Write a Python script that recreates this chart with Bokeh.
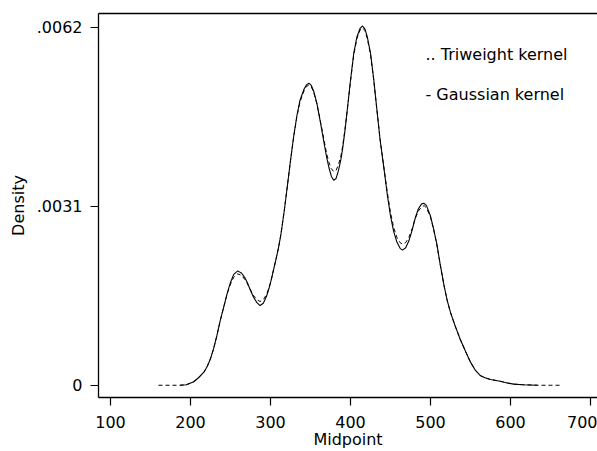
from bokeh.plotting import figure
from bokeh.models import LinearAxis, FixedTicker, Label, Range1d
from bokeh.embed import file_html
from bokeh.resources import INLINE

# ---- data ----
gauss_x = [187, 195, 204, 210, 217, 221, 225, 229, 233, 237, 242, 246, 250, 254, 259,
           264, 268, 271, 275, 279, 283, 287, 291, 295, 298, 301, 304, 307, 310, 313,
           317, 321, 325, 329, 333, 337, 342, 345, 348, 351, 354, 358, 362, 367, 370,
           373, 376, 379, 382, 385, 388, 390, 393, 396, 400, 404, 408, 412, 415, 418,
           421, 425, 429, 433, 437, 442, 446, 450, 454, 458, 462, 465, 469, 473, 477,
           481, 485, 489, 492, 495, 500, 504, 508, 512, 517, 521, 525, 531, 537, 544,
           550, 556, 562, 568, 575, 587, 596, 604, 615, 634]
gauss_y = [0.0, 0.00001, 0.00006, 0.00013, 0.00023, 0.00033, 0.00046, 0.00064, 0.00086, 0.00111,
           0.00138, 0.00160, 0.00178, 0.00192, 0.00198, 0.00194, 0.00186, 0.00178, 0.00164, 0.00152,
           0.00143, 0.00138, 0.00142, 0.00154, 0.00167, 0.00183, 0.00201, 0.00219, 0.00238, 0.00261,
           0.00300, 0.00344, 0.00389, 0.00431, 0.00467, 0.00494, 0.00513, 0.00520, 0.00523, 0.00519,
           0.00509, 0.00488, 0.00458, 0.00419, 0.00396, 0.00377, 0.00362, 0.00355, 0.00358, 0.00372,
           0.00391, 0.00408, 0.00440, 0.00477, 0.00528, 0.00574, 0.00603, 0.00618, 0.00622, 0.00617,
           0.00603, 0.00575, 0.00530, 0.00477, 0.00425, 0.00373, 0.00330, 0.00293, 0.00266, 0.00248,
           0.00237, 0.00234, 0.00238, 0.00250, 0.00268, 0.00290, 0.00306, 0.00314, 0.00315, 0.00311,
           0.00293, 0.00270, 0.00244, 0.00210, 0.00172, 0.00146, 0.00126, 0.00102, 0.00080, 0.00058,
           0.00040, 0.00026, 0.00017, 0.00013, 0.00010, 0.00007, 0.00004, 0.00002, 0.00001, 0.0]

tri_x = [160, 175, 187, 195, 204, 210, 217, 221, 225, 229, 233, 237, 242, 246, 250, 254, 259,
         264, 268, 271, 275, 279, 283, 287, 291, 295, 298, 301, 304, 307, 310, 313,
         317, 321, 325, 329, 333, 337, 342, 345, 348, 351, 354, 358, 362, 367, 370,
         373, 376, 379, 382, 385, 388, 390, 393, 396, 400, 404, 408, 412, 415, 418,
         421, 425, 429, 433, 437, 442, 446, 450, 454, 458, 462, 465, 469, 473, 477,
         481, 485, 489, 492, 495, 500, 504, 508, 512, 517, 521, 525, 531, 537, 544,
         550, 556, 562, 568, 575, 587, 596, 604, 615, 634, 650, 665]
tri_y = [0.0, 0.0, 0.0, 0.00001, 0.00006, 0.00013, 0.00023, 0.00033, 0.00046, 0.00064, 0.00086, 0.00111,
         0.00138, 0.00159, 0.00175, 0.00187, 0.00193, 0.00190, 0.00183, 0.00176, 0.00165, 0.00155,
         0.00148, 0.00145, 0.00148, 0.00157, 0.00168, 0.00183, 0.00201, 0.00219, 0.00238, 0.00261,
         0.00300, 0.00344, 0.00389, 0.00430, 0.00465, 0.00491, 0.00510, 0.00517, 0.00520, 0.00517,
         0.00507, 0.00487, 0.00460, 0.00424, 0.00402, 0.00386, 0.00375, 0.00370, 0.00372, 0.00382,
         0.00397, 0.00412, 0.00442, 0.00477, 0.00526, 0.00571, 0.00600, 0.00615, 0.00619, 0.00614,
         0.00600, 0.00573, 0.00529, 0.00477, 0.00426, 0.00375, 0.00334, 0.00299, 0.00273, 0.00256,
         0.00247, 0.00244, 0.00247, 0.00256, 0.00271, 0.00289, 0.00302, 0.00309, 0.00311, 0.00307,
         0.00291, 0.00269, 0.00243, 0.00210, 0.00172, 0.00146, 0.00126, 0.00102, 0.00080, 0.00058,
         0.00040, 0.00026, 0.00017, 0.00013, 0.00010, 0.00007, 0.00004, 0.00002, 0.00001, 0.0, 0.0, 0.0]

x_ticks = [100, 200, 300, 400, 500, 600, 700]
y_ticks = [0, 0.0031, 0.0062]
y_tick_labels = ["0", ".0031", ".0062"]
x_label = "Midpoint"
y_label = "Density"
legend_labels = [".. Triweight kernel", "- Gaussian kernel"]

FONT = "DejaVu Sans"
FS = "16px"

p = figure(width=597, height=451, output_backend="svg", toolbar_location=None,
           x_range=Range1d(85, 708.75), y_range=Range1d(-0.000212, 0.006436),
           min_border_left=98, min_border_right=0, min_border_top=13, min_border_bottom=52)
p.xgrid.visible = False
p.ygrid.visible = False
p.outline_line_color = None
p.background_fill_color = "white"
p.border_fill_color = "white"

p.line(tri_x, tri_y, line_color="black", line_width=1, line_dash="4 3")
p.line(gauss_x, gauss_y, line_color="black", line_width=1.1)

for ax in (p.xaxis[0], p.yaxis[0]):
    ax.axis_line_color = "black"
    ax.axis_line_width = 1.3
    ax.major_tick_line_color = "black"
    ax.major_tick_line_width = 1.2
    ax.major_tick_out = 8
    ax.major_tick_in = 0
    ax.minor_tick_line_color = None
    ax.major_label_text_font = FONT
    ax.major_label_text_font_size = FS
    ax.major_label_text_color = "black"
    ax.axis_label_text_font = FONT
    ax.axis_label_text_font_size = FS
    ax.axis_label_text_font_style = "normal"
    ax.axis_label_text_color = "black"

xa = p.xaxis[0]
xa.ticker = FixedTicker(ticks=x_ticks)
xa.axis_label = x_label
xa.major_label_standoff = 10
xa.axis_label_standoff = -1

ya = p.yaxis[0]
ya.ticker = FixedTicker(ticks=y_ticks)
ya.major_label_overrides = {t: l for t, l in zip(y_ticks, y_tick_labels)}
ya.axis_label = y_label
ya.major_label_standoff = 8
ya.axis_label_standoff = 6

top = LinearAxis(ticker=FixedTicker(ticks=[]), axis_line_color="black", axis_line_width=1.3,
                 major_tick_line_color=None, minor_tick_line_color=None,
                 major_label_text_font_size="0px")
p.add_layout(top, "above")

for i, txt in enumerate(legend_labels):
    p.add_layout(Label(x=327, y=343 - 40 * i, x_units="screen", y_units="screen",
                       text=txt, text_font=FONT, text_font_size=FS,
                       text_color="black", text_baseline="middle", text_align="left"))

open("out.html", "w").write(file_html(p, INLINE))
